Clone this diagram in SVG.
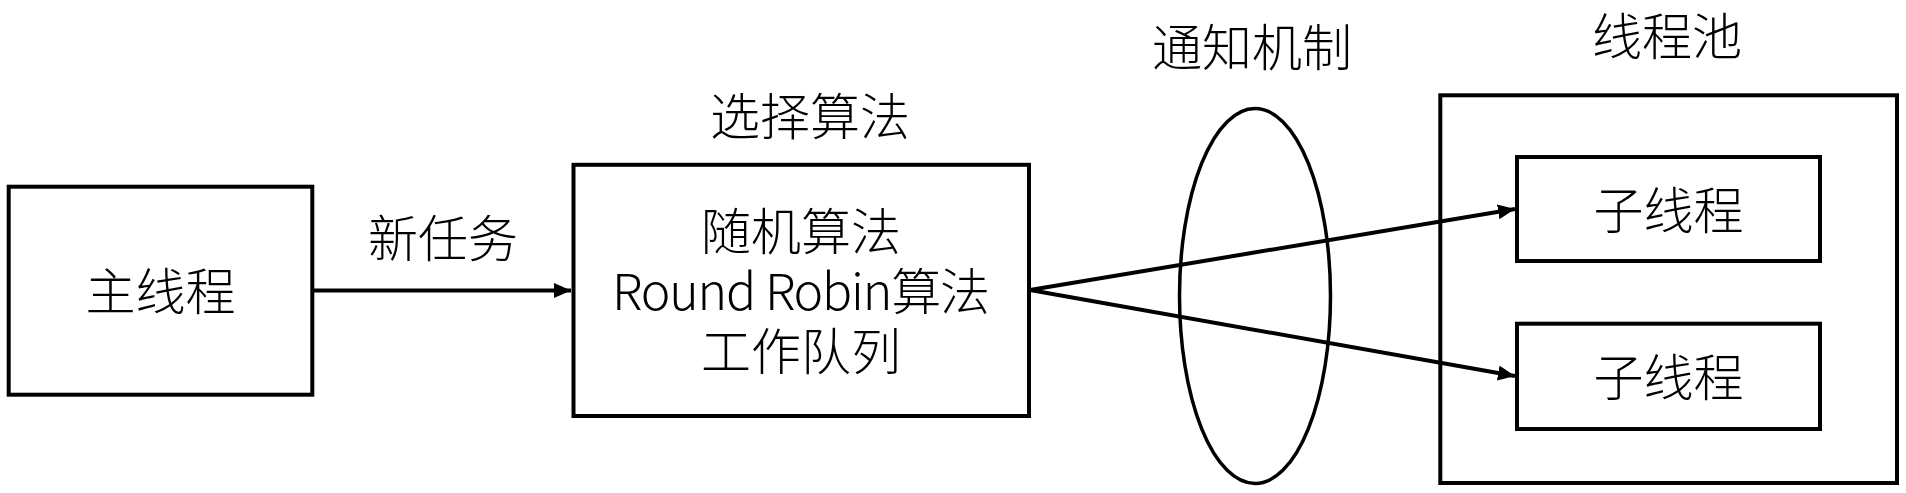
<svg xmlns="http://www.w3.org/2000/svg" width="1906" height="493" viewBox="0 0 1906 493">
<style>
.box{fill:#fff;stroke:#000;stroke-width:4}
.ell{fill:none;stroke:#000;stroke-width:3.5}
.lbl{font-family:"Noto Sans CJK SC","Noto Sans",sans-serif;font-size:50px;font-weight:300;fill:#000;text-anchor:middle}
.con{fill:none;stroke:#000;stroke-width:4}
</style>
<defs>
<marker id="arr" viewBox="0 0 17 15" refX="17" refY="7.5" markerWidth="17" markerHeight="15" markerUnits="userSpaceOnUse" orient="auto">
<path d="M0,0 L17,7.5 L0,15 Z" fill="#000"/>
</marker>
</defs>
<rect width="1906" height="493" fill="#fff"/>
<g id="main-thread">
<rect class="box" x="8.7" y="186.7" width="303.6" height="208"/>
<text class="lbl" x="160.5" y="310">主线程</text>
</g>
<g id="selector">
<text class="lbl" x="810" y="135">选择算法</text>
<rect class="box" x="573.5" y="164.8" width="455.5" height="251.2"/>
<text class="lbl" x="801" y="250">随机算法</text>
<text class="lbl" x="801" y="310" textLength="378" lengthAdjust="spacing">Round Robin算法</text>
<text class="lbl" x="801" y="370">工作队列</text>
</g>
<g id="notify">
<text class="lbl" x="1252" y="66">通知机制</text>
<ellipse class="ell" cx="1255" cy="296" rx="75.5" ry="187.5"/>
</g>
<g id="pool">
<text class="lbl" x="1667" y="55">线程池</text>
<rect class="box" x="1440.3" y="95.3" width="456.7" height="387.7"/>
</g>
<g id="sub1">
<rect class="box" x="1517" y="157" width="303" height="104"/>
<text class="lbl" x="1668.5" y="229">子线程</text>
</g>
<g id="sub2">
<rect class="box" x="1517" y="323.7" width="303" height="105.3"/>
<text class="lbl" x="1668.5" y="396">子线程</text>
</g>
<g id="connectors">
<line class="con" x1="314" y1="290.5" x2="571" y2="290.5" marker-end="url(#arr)"/>
<text class="lbl" x="443" y="257">新任务</text>
<line class="con" x1="1030" y1="290" x2="1515" y2="209" marker-end="url(#arr)"/>
<line class="con" x1="1030" y1="290" x2="1515" y2="376" marker-end="url(#arr)"/>
</g>
</svg>
